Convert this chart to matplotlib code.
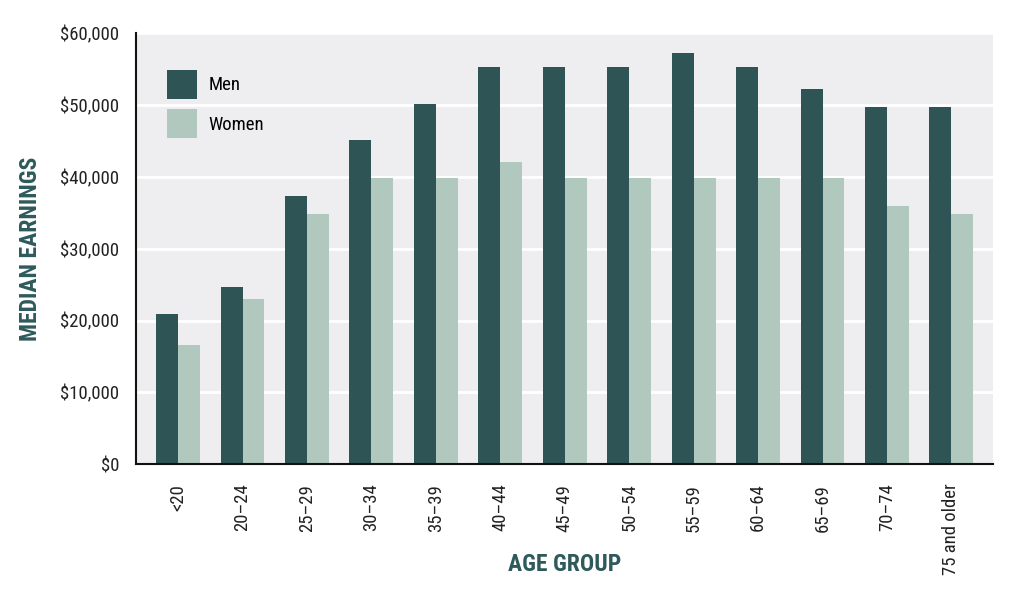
import numpy as np
import matplotlib
matplotlib.use("Agg")
import matplotlib.pyplot as plt
from matplotlib.ticker import FuncFormatter

plt.rcParams['font.family'] = ['Roboto Condensed', 'DejaVu Sans']

# Median earnings by age group
age_groups = ["<20", "20–24", "25–29", "30–34", "35–39", "40–44", "45–49",
              "50–54", "55–59", "60–64", "65–69", "70–74", "75 and older"]
men = [20900, 24700, 37300, 45200, 50200, 55300, 55300,
       55300, 57300, 55300, 52300, 49800, 49800]
women = [16600, 23000, 34800, 39800, 39800, 42100, 39800,
         39800, 39800, 39800, 39800, 36000, 34900]

men_col = "#2f5456"
women_col = "#b1c8be"
title_col = "#2e5a5c"

fig = plt.figure(figsize=(10.24, 5.96), dpi=100)
ax = fig.add_axes([0.133, 0.221, 0.837, 0.723])
ax.set_facecolor("#eeeef0")

x = np.arange(len(age_groups))
w = 0.34
ax.bar(x - w/2, men, w, color=men_col, label="Men", zorder=2)
ax.bar(x + w/2, women, w, color=women_col, label="Women", zorder=2)

ax.set_xlim(-0.65, len(age_groups) - 0.35)
ax.set_ylim(0, 60000)
ax.set_yticks(np.arange(0, 60001, 10000))
ax.yaxis.set_major_formatter(FuncFormatter(lambda v, p: "${:,.0f}".format(v)))
ax.grid(axis="y", color="white", linewidth=2, zorder=1)
ax.set_axisbelow(True)

ax.set_xticks(x)
ax.set_xticklabels(age_groups, rotation=90, fontsize=13.5, color="#222222")
ax.tick_params(axis="x", length=0, pad=14)
ax.tick_params(axis="y", length=0, pad=12, labelsize=13.5, labelcolor="#222222")

for s in ["top", "right"]:
    ax.spines[s].set_visible(False)
ax.spines["left"].set_color("#111111")
ax.spines["bottom"].set_color("#111111")
ax.spines["left"].set_linewidth(1.5)
ax.spines["bottom"].set_linewidth(1.5)

ax.set_ylabel("MEDIAN EARNINGS", fontsize=17, fontweight="bold", color=title_col)
ax.set_xlabel("AGE GROUP", fontsize=17, fontweight="bold", color=title_col)
ax.yaxis.set_label_coords(-0.11, 0.5)
ax.xaxis.set_label_coords(0.5, -0.205)

ax.legend(loc="upper left", frameon=False, fontsize=13.5, handlelength=1.6,
          handleheight=2.0, handletextpad=0.6, labelspacing=0.55, borderpad=0,
          bbox_to_anchor=(0.025, 0.937))

fig.savefig("out.png", dpi=100, facecolor="white")
